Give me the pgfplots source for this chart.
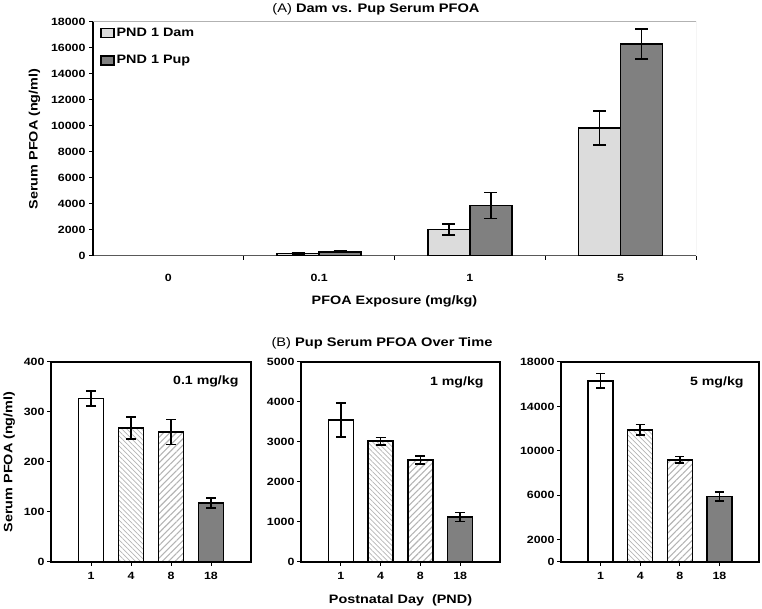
\documentclass[border=0pt]{standalone}
\usepackage{fontspec}
\setmainfont{Liberation Sans}[FakeStretch=1.18]
\usepackage{pgfplots}
\pgfplotsset{compat=1.18}
\usetikzlibrary{patterns.meta}
\definecolor{damgray}{HTML}{DCDCDC}
\definecolor{pupgray}{HTML}{808080}
\definecolor{hatchgray}{HTML}{B4B4B4}
\newcommand{\lblfont}{\bfseries\fontsize{12.2}{14}\selectfont}
\pgfplotsset{
  common/.style={
    scale only axis,
    /pgf/number format/assume math mode=true,
    /pgf/number format/set thousands separator={},
    scaled y ticks=false,
    tick label style={font=\bfseries\fontsize{10.5}{12}\selectfont},
    label style={font=\lblfont},
    tick align=outside,
    major tick length=4pt,
    tick style={black, line width=1pt},
  },
  barbox/.style={ybar, bar shift=0pt, draw=black, line width=1.5pt,
    error bars/y dir=both, error bars/y explicit,
    error bars/error bar style={line width=1.5pt, black},
    error bars/error mark options={rotate=90, mark size=#1, line width=1.5pt, black}},
  panel/.style={common, width=200pt, height=200pt, xmin=0, xmax=5, ymin=0,
    xtick={1,2,3,4}, xticklabels={1,4,8,18}, tick pos=left,
    axis line style={line width=1.5pt}, bar width=25pt,
    yticklabel style={xshift=1pt}, xticklabel style={yshift=-3pt}},
}
\begin{document}
\begin{tikzpicture}
\path[use as bounding box] (0pt,0pt) rectangle (762pt,609pt);
% ---------- Panel A ----------
\begin{axis}[common, at={(93pt,353pt)}, anchor=south west,
  width=603pt, height=234pt,
  xmin=-0.5, xmax=3.5, ymin=0, ymax=18000,
  ytick={0,2000,...,18000},
  axis x line*=bottom, axis y line*=left,
  x axis line style={draw=gray!70!black, line width=1pt},
  y axis line style={draw=black, line width=1.2pt},
  xtick={0.5,1.5,2.5,3.5}, xticklabels={},
  extra x ticks={0,1,2,3}, extra x tick labels={0,0.1,1,5},
  extra x tick style={major tick length=0pt, tick label style={yshift=-15pt}},
  xlabel={PFOA Exposure (mg/kg)},
  xlabel style={yshift=-3pt},
  ylabel={Serum PFOA (ng/ml)},
  ylabel style={yshift=4pt},
  legend style={at={(0.012,0.985)}, anchor=north west, draw=none, fill=none,
    font=\lblfont, row sep=14pt, inner sep=0pt},
  legend cell align=left,
  bar width=42pt,
]
% bar centres offset by 21pt = 0.1393 category units
\addplot[barbox=6.5pt, fill=damgray,
  legend image code/.code={\draw[fill=damgray, draw=black, line width=1.2pt] (0pt,-4.5pt) rectangle (13pt,4.5pt);}]
  coordinates {(0.8607,200) +- (0,70) (1.8607,2050) +- (0,430) (2.8607,9850) +- (0,1300)};
\addlegendentry{PND 1 Dam}
\addplot[barbox=6.5pt, fill=pupgray,
  legend image code/.code={\draw[fill=pupgray, draw=black, line width=1.2pt] (0pt,-4.5pt) rectangle (13pt,4.5pt);}]
  coordinates {(1.1393,320) +- (0,70) (2.1393,3900) +- (0,1000) (3.1393,16300) +- (0,1150)};
\addlegendentry{PND 1 Pup}
\draw[gray!60, line width=1pt] (rel axis cs:0,1) -- (rel axis cs:1,1) -- (rel axis cs:1,0);
\end{axis}
\node[font=\fontsize{12.4}{14}\selectfont] at (376pt,600pt) {(A) \textbf{Dam vs. Pup Serum PFOA}};
\node[font=\fontsize{12.4}{14}\selectfont] at (382pt,266pt) {(B) \textbf{Pup Serum PFOA Over Time}};
% ---------- Panel B1 ----------
\begin{axis}[panel, at={(51pt,47pt)}, anchor=south west,
  ymax=400, ytick={0,100,...,400},
  ylabel={Serum PFOA (ng/ml)}, ylabel style={yshift=2pt}]
\addplot[barbox=5pt, fill=white] coordinates {(1,327) +- (0,15)};
\addplot[barbox=5pt, pattern={Lines[angle=-45,distance=3.5pt,line width=0.7pt]}, pattern color=hatchgray] coordinates {(2,268) +- (0,22)};
\addplot[barbox=5pt, pattern={Lines[angle=45,distance=4.5pt,line width=1.1pt]}, pattern color=hatchgray] coordinates {(3,260) +- (0,25)};
\addplot[barbox=5pt, fill=pupgray] coordinates {(4,118) +- (0,10)};
\node[anchor=east, font=\bfseries\fontsize{12}{14}\selectfont] at (rel axis cs:0.955,0.905) {0.1 mg/kg};
\end{axis}
% ---------- Panel B2 ----------
\begin{axis}[panel, at={(301pt,47pt)}, anchor=south west, width=199pt,
  ymax=5000, ytick={0,1000,...,5000},
  xlabel={Postnatal Day\ \ (PND)}, xlabel style={yshift=-8pt}]
\addplot[barbox=5pt, fill=white] coordinates {(1,3550) +- (0,430)};
\addplot[barbox=5pt, pattern={Lines[angle=-45,distance=3.5pt,line width=0.7pt]}, pattern color=hatchgray] coordinates {(2,3020) +- (0,90)};
\addplot[barbox=5pt, pattern={Lines[angle=45,distance=4.5pt,line width=1.1pt]}, pattern color=hatchgray] coordinates {(3,2550) +- (0,100)};
\addplot[barbox=5pt, fill=pupgray] coordinates {(4,1125) +- (0,110)};
\node[anchor=east, font=\bfseries\fontsize{12}{14}\selectfont] at (rel axis cs:0.935,0.9) {1 mg/kg};
\end{axis}
% ---------- Panel B3 ----------
\begin{axis}[panel, at={(561pt,47pt)}, anchor=south west, width=198pt,
  ymax=18000, ytick={0,2000,6000,10000,14000,18000}]
\addplot[barbox=4.5pt, fill=white] coordinates {(1,16300) +- (0,650)};
\addplot[barbox=4.5pt, pattern={Lines[angle=-45,distance=3.5pt,line width=0.7pt]}, pattern color=hatchgray] coordinates {(2,11900) +- (0,480)};
\addplot[barbox=4.5pt, pattern={Lines[angle=45,distance=4.5pt,line width=1.1pt]}, pattern color=hatchgray] coordinates {(3,9200) +- (0,300)};
\addplot[barbox=4.5pt, fill=pupgray] coordinates {(4,5900) +- (0,400)};
\node[anchor=east, font=\bfseries\fontsize{12}{14}\selectfont] at (rel axis cs:0.94,0.9) {5 mg/kg};
\end{axis}
\end{tikzpicture}
\end{document}
